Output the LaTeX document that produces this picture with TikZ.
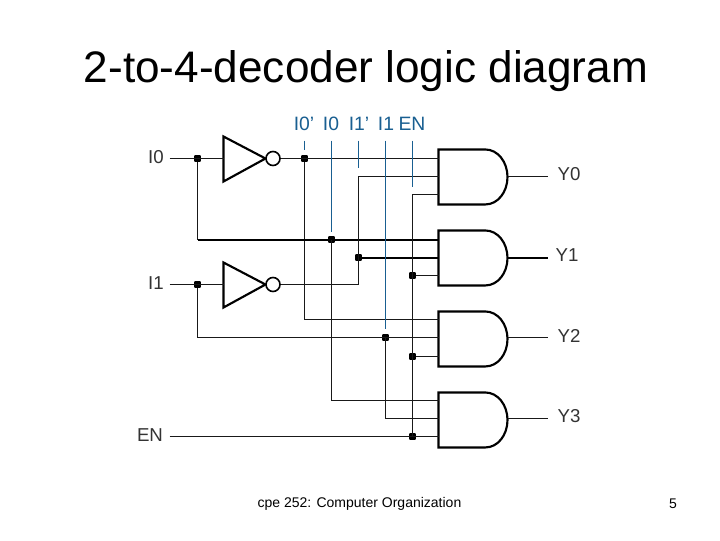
\documentclass[tikz,border=0pt]{standalone}
\usepackage{fontspec}
\setmainfont{Liberation Sans}
\begin{document}
\begin{tikzpicture}[x=0.75pt,y=-0.75pt,
  wire/.style={line width=0.85pt,black!90},
  heavy/.style={line width=1.5pt,black},
  body/.style={line width=1.6pt,black,line join=miter},
  tick/.style={line width=1pt,color=tapblue},
  dot/.style={fill=black,inner sep=0pt,minimum size=5.2pt,shape=rectangle,rounded corners=0.8pt},
  bubble/.style={draw=black,line width=1.2pt,circle,fill=white,inner sep=0pt,minimum size=10.5pt},
  lab/.style={font=\fontsize{14}{16}\selectfont,color=black!80,inner sep=0pt,anchor=base},
  tap/.style={font=\fontsize{14.5}{16}\selectfont,color=tapblue,inner sep=0pt,anchor=base}]
\definecolor{tapblue}{RGB}{25,95,145}
\useasboundingbox (0,0) rectangle (720,540);
\fill[white] (0,0) rectangle (720,540);

% texts
\node[inner sep=0pt,font=\fontsize{33.1}{36}\selectfont] (title) at (366,71) {2-to-4-decoder logic diagram};
\node[inner sep=0pt,font=\fontsize{10.5}{12}\selectfont] (foot) at (359.5,504) {cpe 252: Computer Organization};
\node[inner sep=0pt,font=\fontsize{10.5}{12}\selectfont] (page) at (673,504) {5};
\node[lab] (lI0) at (156,163) {I0};
\node[lab] (lI1) at (156,289) {I1};
\node[lab] (lEN) at (150,441) {EN};
\node[lab] (lY0) at (569,180) {Y0};
\node[lab] (lY1) at (567,261) {Y1};
\node[lab] (lY2) at (569,342) {Y2};
\node[lab] (lY3) at (569,422) {Y3};
\node[tap] (tI0n) at (304,130) {I0'};
\node[tap] (tI0) at (331,130) {I0};
\node[tap] (tI1n) at (359,130) {I1'};
\node[tap] (tI1) at (386,130) {I1};
\node[tap] (tEN) at (412,130) {EN};

% half pixel shift keeps the thin wires crisp
\begin{scope}[shift={(0.5,0.5)}]
% AND gates: inputs a, b, c and output y
\foreach \n/\t/\a/\b/\c/\o in {1/149/158/176/194/176,2/230/239/257/275/257,3/311/319/337/356/337,4/392/400/418/436/418}{
  \draw[body] (438,\t) -- (485,\t) arc[start angle=90,end angle=-90,x radius=16.5pt,y radius=20.6pt] -- (438,\t+55) -- cycle;
  \coordinate (g\n a) at (438,\a);
  \coordinate (g\n b) at (438,\b);
  \coordinate (g\n c) at (438,\c);
  \coordinate (g\n y) at (507,\o);
  \coordinate (Y\n) at (547,\o);
}

% inverters
\foreach \n/\y in {0/158,1/284}{
  \draw[body] (223,\y-22) -- (265,\y) -- (223,\y+23) -- cycle;
  \coordinate (inv\n) at (223,\y);
  \node[bubble] (bub\n) at (272.5,\y) {};
  \coordinate (in\n) at (169,\y);
  \node[dot] (d\n) at (197,\y) {};
}

% junctions
\coordinate (en) at (169,436);
\coordinate (enTop) at (412,194);
\coordinate (i1nTop) at (358,176);
\coordinate (c0) at (197,239);
\node[dot] (n0) at (304,158) {};
\node[dot] (t0) at (331,239) {};
\node[dot] (n1) at (358,257) {};
\node[dot] (t1) at (385,337) {};
\node[dot] (e2) at (412,275) {};
\node[dot] (e3) at (412,356) {};
\node[dot] (e4) at (412,436) {};

% inputs and complements
\draw[wire] (in0) -- (inv0);
\draw[wire] (in1) -- (inv1);
\draw[wire] (bub0) -- (g1a);
\draw[wire] (n0) |- (g3a);
\draw[wire] (d0) -- (c0);
\draw[heavy] (c0) -- (g2a);
\draw[wire] (t0.center) |- (g4a);
\draw[wire] (bub1) -| (i1nTop) -- (g1b);
\draw[heavy] (n1.center) -- (g2b);
\draw[wire] (d1) |- (g3b);
\draw[wire] (t1.center) |- (g4b);

% enable
\draw[wire] (en) -- (g4c);
\draw[wire] (e4.center) -- (enTop) -- (g1c);
\draw[wire] (e2) -- (g2c);
\draw[wire] (e3) -- (g3c);

% outputs
\draw[wire] (g1y) -- (Y1);
\draw[heavy] (g2y) -- (Y2);
\draw[wire] (g3y) -- (Y3);
\draw[wire] (g4y) -- (Y4);

% blue taps
\coordinate (a0) at (304,140); \coordinate (b0) at (304,149);
\coordinate (a1) at (331,140); \coordinate (b1) at (331,231);
\coordinate (a2) at (358,140); \coordinate (b2) at (358,167);
\coordinate (a3) at (385,140); \coordinate (b3) at (385,328);
\coordinate (a4) at (412,140); \coordinate (b4) at (412,186);
\foreach \k in {0,...,4}{\draw[tick] (a\k) -- (b\k);}
\end{scope}
\end{tikzpicture}
\end{document}
